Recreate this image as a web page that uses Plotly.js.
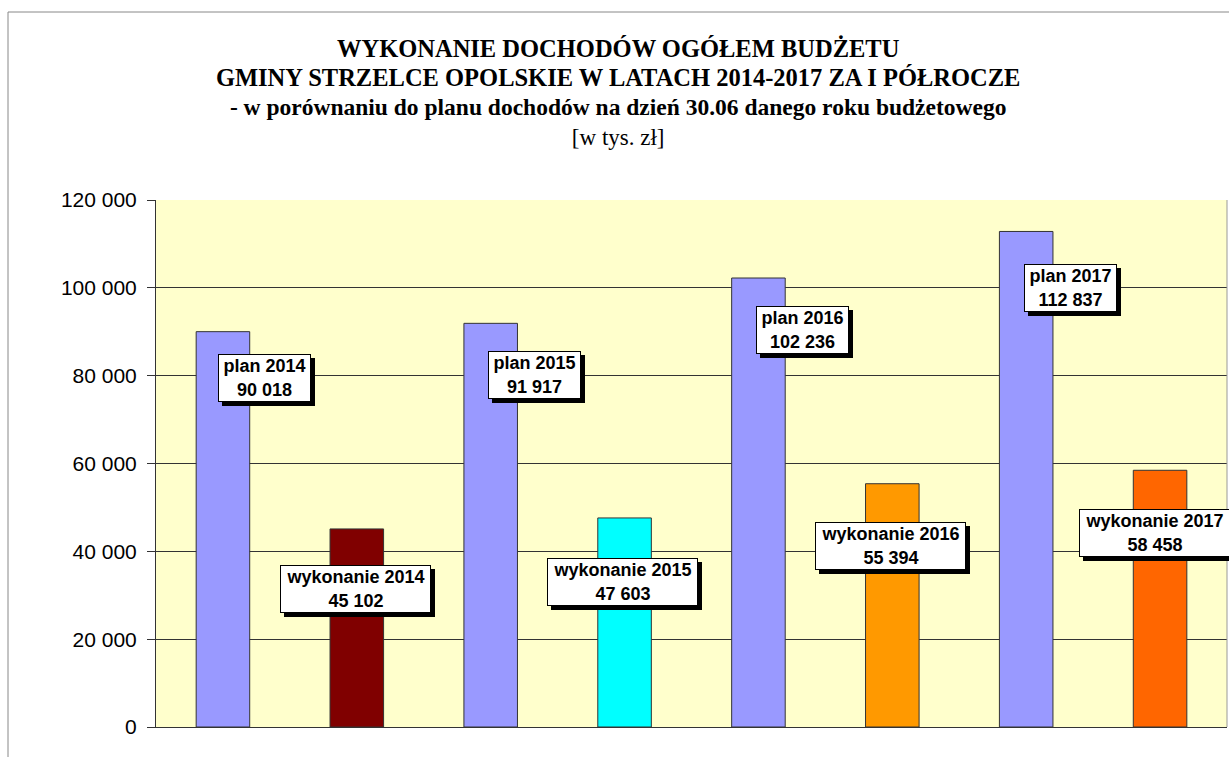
<!DOCTYPE html>
<html>
<head>
<meta charset="utf-8">
<script src="https://cdn.plot.ly/plotly-3.0.1.min.js"></script>
<style>
  html, body { margin: 0; padding: 0; background: #ffffff; }
  #chart { width: 1229px; height: 757px; }
</style>
</head>
<body>
<div id="chart"></div>
<script>
// ---- data ----
const categories = ['plan 2014', 'wykonanie 2014', 'plan 2015', 'wykonanie 2015',
                    'plan 2016', 'wykonanie 2016', 'plan 2017', 'wykonanie 2017'];
const values = [90018, 45102, 91917, 47603, 102236, 55394, 112837, 58458];
const barColors = ['#9999FF', '#800000', '#9999FF', '#00FFFF',
                   '#9999FF', '#FF9900', '#9999FF', '#FF6600'];
const yTickValues = [0, 20000, 40000, 60000, 80000, 100000, 120000];

// label offsets (px) relative to top of each bar
const labelXShift = [42, -1, 44, -2, 44, -2, 44, -6];
const labelYShift = [-46, -60, -52, -64, -52, -62, -57, -63];

function fmt(n) {
  return String(n).replace(/\B(?=(\d{3})+(?!\d))/g, ' ');
}

const trace = {
  type: 'bar',
  x: categories,
  y: values,
  marker: { color: barColors, line: { color: '#333333', width: 1 } },
  hoverinfo: 'x+y',
  showlegend: false
};

const labelFont = { family: 'Liberation Sans, Arial, sans-serif', size: 18, color: '#000000' };
const annotations = [];
categories.forEach((c, i) => {
  const w = c.startsWith('plan') ? 87 : 145;
  // drop shadow box
  annotations.push({
    x: c, y: values[i], xref: 'x', yref: 'y',
    text: '\u00a0', showarrow: false,
    xshift: labelXShift[i] + 4, yshift: labelYShift[i] - 4,
    font: labelFont,
    bgcolor: '#000000', bordercolor: '#000000', borderwidth: 1, borderpad: 2,
    width: w, height: 42
  });
  // white label box
  annotations.push({
    x: c, y: values[i], xref: 'x', yref: 'y',
    text: '<b>' + c + '<br>' + fmt(values[i]) + '</b>', showarrow: false,
    xshift: labelXShift[i], yshift: labelYShift[i],
    font: labelFont,
    bgcolor: '#FFFFFF', bordercolor: '#000000', borderwidth: 1, borderpad: 2,
    width: w, height: 42
  });
});

const layout = {
  width: 1229, height: 757,
  margin: { l: 156, r: 2, t: 200, b: 30 },
  paper_bgcolor: '#FFFFFF',
  plot_bgcolor: '#FFFFCC',
  separators: ', ',
  bargap: 0.6,
  title: {
    text: '<b><span style="font-size:24.5px">WYKONANIE DOCHODÓW OGÓŁEM BUDŻETU</span><br>' +
          '<span style="font-size:24.5px">GMINY STRZELCE OPOLSKIE W LATACH 2014-2017 ZA I PÓŁROCZE</span><br>' +
          '<span style="font-size:23.5px">- w porównaniu do planu dochodów na dzień 30.06 danego roku budżetowego</span></b><br>' +
          '<span style="font-size:23px">[w tys. zł]</span>',
    font: { family: 'Liberation Serif, Times New Roman, serif', size: 22.5, color: '#000000' },
    x: 0.503, xref: 'container', xanchor: 'center',
    y: 0.925, yref: 'container', yanchor: 'top'
  },
  xaxis: {
    type: 'category',
    range: [-0.5, 7.5],
    showticklabels: false,
    ticks: '',
    showgrid: false,
    showline: true, linecolor: '#333333', linewidth: 1,
    fixedrange: true
  },
  yaxis: {
    range: [0, 120000],
    tickvals: yTickValues,
    tickformat: ',d',
    ticks: 'outside', ticklen: 8, tickcolor: '#333333',
    tickfont: { family: 'Liberation Sans, Arial, sans-serif', size: 21, color: '#000000' },
    ticklabelstandoff: 6,
    showgrid: true, gridcolor: '#333333', gridwidth: 1,
    zeroline: false,
    showline: true, linecolor: '#333333', linewidth: 1,
    fixedrange: true
  },
  shapes: [
    // right edge of plot area
    { type: 'line', xref: 'paper', yref: 'paper', x0: 1, x1: 1, y0: 0, y1: 1,
      line: { color: '#999999', width: 1 } },
    // outer chart border (left + top)
    { type: 'line', xref: 'paper', yref: 'paper',
      x0: (8 - 156) / 1071, x1: (8 - 156) / 1071, y0: -0.1, y1: 1 + (200 - 12) / 527,
      line: { color: '#888888', width: 1 } },
    { type: 'line', xref: 'paper', yref: 'paper',
      x0: (8 - 156) / 1071, x1: 1.01, y0: 1 + (200 - 12) / 527, y1: 1 + (200 - 12) / 527,
      line: { color: '#888888', width: 1 } }
  ],
  annotations: annotations
};

Plotly.newPlot('chart', [trace], layout, { displayModeBar: false, staticPlot: true });
</script>
</body>
</html>
